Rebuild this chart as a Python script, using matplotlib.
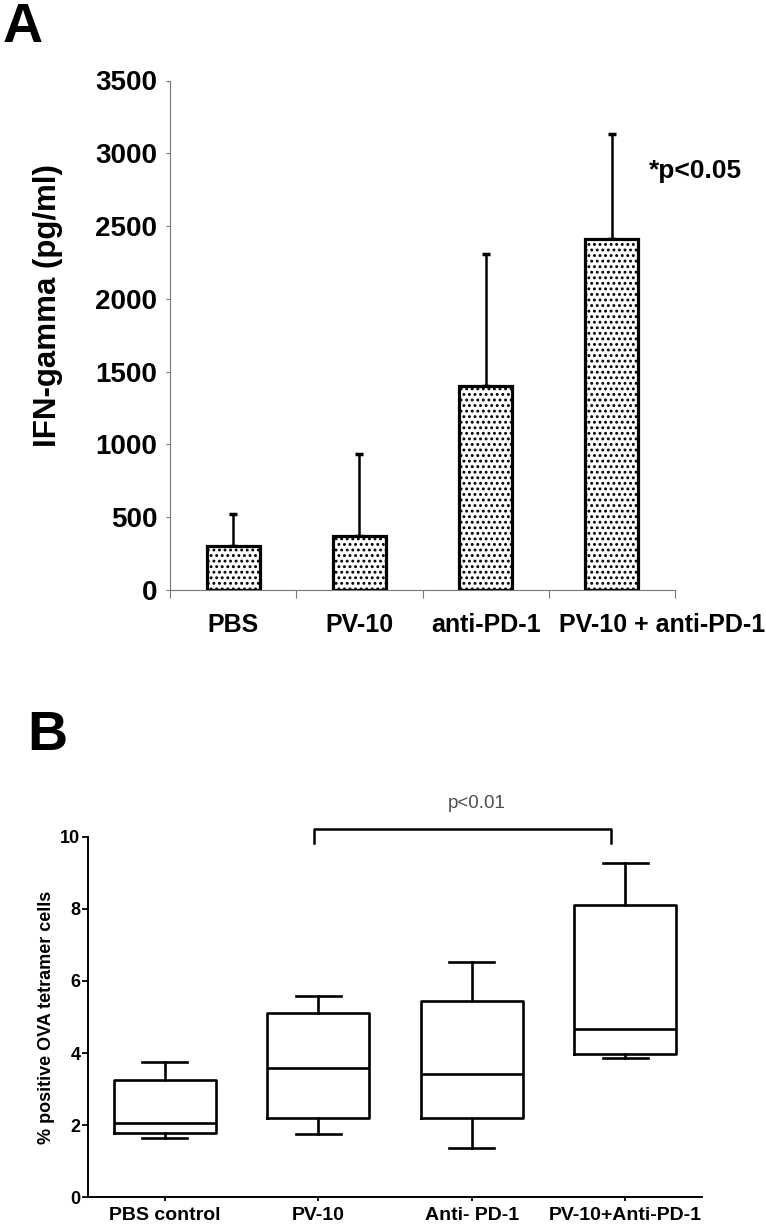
import numpy as np
import matplotlib
matplotlib.use('Agg')
import matplotlib.pyplot as plt
import matplotlib.transforms as mtransforms

plt.rcParams['font.family'] = ['Liberation Sans', 'DejaVu Sans']
plt.rcParams['hatch.linewidth'] = 1.3

# ---- panel A data: IFN-gamma (pg/ml), mean and upper error ----
groups_a = ['PBS', 'PV-10', 'anti-PD-1', 'PV-10 + anti-PD-1']
ifn_mean = [303, 369, 1400, 2410]
ifn_err = [220, 566, 908, 725]
yticks_a = [0, 500, 1000, 1500, 2000, 2500, 3000, 3500]

# ---- panel B data: % positive OVA tetramer cells (box stats) ----
groups_b = ['PBS control', 'PV-10', 'Anti- PD-1', 'PV-10+Anti-PD-1']
whis_lo = [1.63, 1.75, 1.35, 3.85]
q1 = [1.79, 2.19, 2.20, 3.96]
med = [2.05, 3.58, 3.41, 4.66]
q3 = [3.25, 5.10, 5.45, 8.10]
whis_hi = [3.76, 5.57, 6.52, 9.28]
yticks_b = [0, 2, 4, 6, 8, 10]

W, H = 766, 1225
fig = plt.figure(figsize=(W / 100, H / 100), dpi=100)

# ================= panel A =================
axA = fig.add_axes([170 / W, 1 - 590 / H, 505 / W, 509.5 / H])
x = np.arange(1, 5)
axA.bar(x, ifn_mean, width=0.42, color='white', edgecolor='black',
        linewidth=2.3, hatch='...', zorder=2)
axA.errorbar(x, ifn_mean, yerr=[np.zeros(4), ifn_err], fmt='none',
             ecolor='black', elinewidth=1.8, capsize=3, capthick=2.5, zorder=1)
axA.set_xlim(0.5, 4.5)
axA.set_ylim(0, 3500)
axA.set_yticks(yticks_a)
axA.set_xticks(x)
axA.set_xticklabels(groups_a)
axA.set_xticks(np.arange(0.5, 5.0, 1.0), minor=True)
axA.tick_params(axis='x', which='major', length=0, pad=16.5)
axA.tick_params(axis='x', which='minor', length=6, width=0.8, color='#777777')
axA.tick_params(axis='y', length=3, width=0.8, color='#777777', pad=6)
for lab in axA.get_yticklabels():
    lab.set_fontsize(20)
    lab.set_fontweight('bold')
for lab in axA.get_xticklabels():
    lab.set_fontsize(18)
    lab.set_fontweight('bold')
# last category label sits off-centre in the original
off = mtransforms.ScaledTranslation(50 / 100, 0, fig.dpi_scale_trans)
last = axA.get_xticklabels()[-1]
last.set_transform(last.get_transform() + off)
for s in ['top', 'right']:
    axA.spines[s].set_visible(False)
for s in ['left', 'bottom']:
    axA.spines[s].set_color('#777777')
    axA.spines[s].set_linewidth(0.8)
axA.text(4.29, 2875, '*p<0.05', fontsize=19, fontweight='bold',
         ha='left', va='center', clip_on=False)
fig.text(48 / W, 1 - 306 / H, 'IFN-gamma (pg/ml)', rotation=90,
         fontsize=22.5, fontweight='bold', ha='center', va='center')
fig.text(3 / W, 1 - 2 / H, 'A', fontsize=40, fontweight='bold',
         ha='left', va='top')

# ================= panel B =================
axB = fig.add_axes([88 / W, 1 - 1197 / H, 614 / W, 360 / H])
stats = []
for i in range(4):
    stats.append({'med': med[i], 'q1': q1[i], 'q3': q3[i],
                  'whislo': whis_lo[i], 'whishi': whis_hi[i], 'fliers': []})
lw = 1.9
axB.bxp(stats, positions=x, widths=0.665, capwidths=0.29, showfliers=False,
        boxprops=dict(color='black', linewidth=lw),
        medianprops=dict(color='black', linewidth=lw),
        whiskerprops=dict(color='black', linewidth=lw),
        capprops=dict(color='black', linewidth=lw))
axB.set_xlim(0.5, 4.5)
axB.set_ylim(0, 10)
axB.set_yticks(yticks_b)
axB.set_xticks(x)
axB.set_xticklabels(groups_b)
axB.tick_params(axis='y', length=4.5, width=1.3, pad=1)
axB.tick_params(axis='x', length=3, width=1.3, pad=4)
for lab in axB.get_yticklabels():
    lab.set_fontsize(13)
    lab.set_fontweight('bold')
for lab in axB.get_xticklabels():
    lab.set_fontsize(14)
    lab.set_fontweight('bold')
for s in ['top', 'right']:
    axB.spines[s].set_visible(False)
for s in ['left', 'bottom']:
    axB.spines[s].set_linewidth(1.4)
axB.set_ylabel('% positive OVA tetramer cells', fontsize=13, fontweight='bold')
axB.yaxis.set_label_coords(-0.053, 0.5)

# significance bracket PV-10 vs PV-10+Anti-PD-1
axB.plot([1.97, 1.97, 3.91, 3.91], [9.83, 10.22, 10.22, 9.83],
         color='black', linewidth=1.8, clip_on=False)
axB.text(3.03, 10.94, 'p<0.01', fontsize=13.5, color='#4d4d4d',
         ha='center', va='center')
fig.text(27 / W, 1 - 710 / H, 'B', fontsize=40, fontweight='bold',
         ha='left', va='top')

fig.savefig('out.png', dpi=100)
